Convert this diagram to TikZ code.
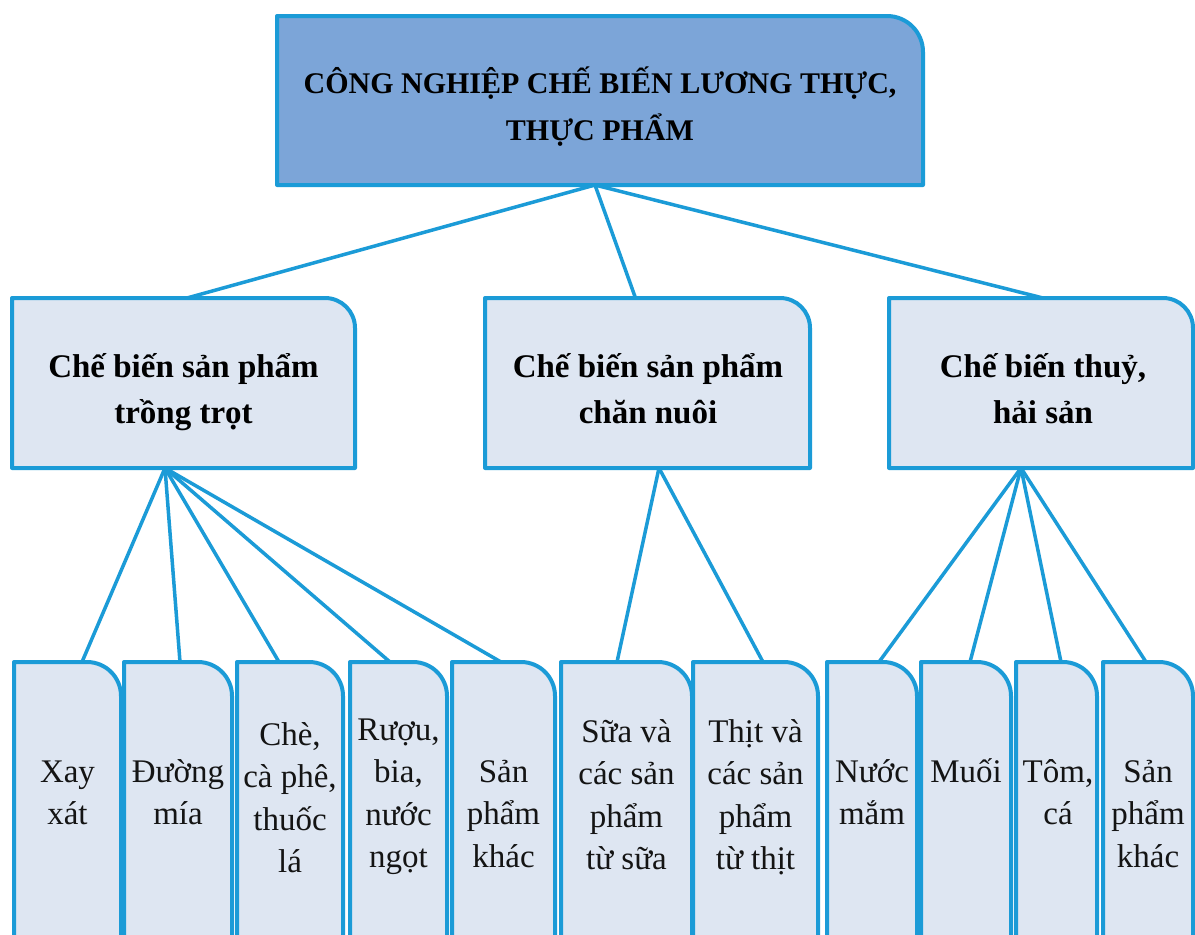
\documentclass[tikz,border=0pt]{standalone}
\usepackage{fontspec}
\setmainfont{Liberation Serif}
\definecolor{cline}{RGB}{27,155,215}
\definecolor{topfill}{RGB}{124,165,216}
\definecolor{boxfill}{RGB}{222,230,242}
\definecolor{txtgray}{RGB}{20,20,20}
\newcommand\tl[1]{\begin{tabular}[t]{@{}c@{}}#1\end{tabular}}
\newcommand\tabshape[3]{%
  \path[outline, fill=#3] (#1.south west) -- (#1.north west) -- ([xshift=-#2pt]#1.north east)
    arc[start angle=90, end angle=0, radius=#2pt] -- (#1.south east) -- cycle;}
\begin{document}
\begin{tikzpicture}[x=1pt,y=-1pt,
  shapebox/.style={draw=none, fill=none, inner sep=0pt, outer sep=0pt},
  outline/.style={draw=cline, line width=4pt, line join=round},
  conn/.style={draw=cline, line width=3.5pt, line cap=round},
  toptext/.style={anchor=base, inner sep=0pt, font=\fontsize{30}{47}\selectfont\bfseries, text=black},
  midtext/.style={anchor=base, inner sep=0pt, font=\fontsize{33}{46}\selectfont\bfseries, text=black},
  leaftext/.style={anchor=base, inner sep=0pt, font=\fontsize{33}{42.5}\selectfont, text=txtgray}]
\useasboundingbox (0,0) rectangle (1195,935);
\clip (0,0) rectangle (1195,935);
\fill[white] (0,0) rectangle (1195,935);
% boxes (geometry)
\node[shapebox, minimum width=646pt, minimum height=169pt] (top) at (600,100.5) {};
\node[shapebox, minimum width=343pt, minimum height=170pt] (m1) at (183.5,383) {};
\node[shapebox, minimum width=325pt, minimum height=170pt] (m2) at (647.5,383) {};
\node[shapebox, minimum width=304pt, minimum height=170pt] (m3) at (1041,383) {};
\begin{scope}[every node/.style={shapebox, minimum height=288pt}]
\node[minimum width=107pt] (l1) at (67.5,806) {};
\node[minimum width=108pt] (l2) at (178,806) {};
\node[minimum width=106pt] (l3) at (290,806) {};
\node[minimum width=97pt] (l4) at (398.5,806) {};
\node[minimum width=103pt] (l5) at (503.5,806) {};
\node[minimum width=131pt] (l6) at (626.5,806) {};
\node[minimum width=125pt] (l7) at (755.5,806) {};
\node[minimum width=90pt] (l8) at (872,806) {};
\node[minimum width=90pt] (l9) at (966,806) {};
\node[minimum width=81pt] (l10) at (1056.5,806) {};
\node[minimum width=90pt] (l11) at (1148,806) {};
\end{scope}
% connectors
\draw[conn] ([xshift=-5pt]top.south) -- ([xshift=3.5pt]m1.north);
\draw[conn] ([xshift=-5pt]top.south) -- ([xshift=-12pt]m2.north);
\draw[conn] ([xshift=-5pt]top.south) -- ([xshift=2pt]m3.north);
\draw[conn] ([xshift=-18.5pt]m1.south) -- ([xshift=14.5pt]l1.north);
\draw[conn] ([xshift=-18.5pt]m1.south) -- ([xshift=2pt]l2.north);
\draw[conn] ([xshift=-18.5pt]m1.south) -- ([xshift=-11pt]l3.north);
\draw[conn] ([xshift=-18.5pt]m1.south) -- ([xshift=-8.5pt]l4.north);
\draw[conn] ([xshift=-18.5pt]m1.south) -- ([xshift=-2.5pt]l5.north);
\draw[conn] ([xshift=11.5pt]m2.south) -- ([xshift=-9.5pt]l6.north);
\draw[conn] ([xshift=11.5pt]m2.south) -- ([xshift=7.5pt]l7.north);
\draw[conn] ([xshift=-20pt]m3.south) -- ([xshift=7pt]l8.north);
\draw[conn] ([xshift=-20pt]m3.south) -- ([xshift=4pt]l9.north);
\draw[conn] ([xshift=-20pt]m3.south) -- ([xshift=4.5pt]l10.north);
\draw[conn] ([xshift=-20pt]m3.south) -- ([xshift=-2pt]l11.north);
% outlines
\tabshape{top}{36}{topfill}
\tabshape{m1}{30}{boxfill}
\tabshape{m2}{30}{boxfill}
\tabshape{m3}{30}{boxfill}
\foreach \n in {l1,l2,l3,l4,l5,l6,l7,l8,l9,l10,l11}{\tabshape{\n}{34}{boxfill}}
% texts
\node[toptext] (ttop) at (600,93) {\tl{CÔNG NGHIỆP CHẾ BIẾN LƯƠNG THỰC,\\THỰC PHẨM}};
\node[midtext] (tm1) at (183.5,377) {\tl{Chế biến sản phẩm\\trồng trọt}};
\node[midtext] (tm2) at (648,377) {\tl{Chế biến sản phẩm\\chăn nuôi}};
\node[midtext] (tm3) at (1043,377) {\tl{Chế biến thuỷ,\\hải sản}};
\node[leaftext] (t1) at (67.5,782) {\tl{Xay\\xát}};
\node[leaftext] (t2) at (178,782) {\tl{Đường\\mía}};
\node[leaftext] (t3) at (290,745) {\tl{Chè,\\cà phê,\\thuốc\\lá}};
\node[leaftext] (t4) at (398.5,740) {\tl{Rượu,\\bia,\\nước\\ngọt}};
\node[leaftext] (t5) at (503.5,782) {\tl{Sản\\phẩm\\khác}};
\node[leaftext] (t6) at (626.5,742) {\tl{Sữa và\\các sản\\phẩm\\từ sữa}};
\node[leaftext] (t7) at (755.5,742) {\tl{Thịt và\\các sản\\phẩm\\từ thịt}};
\node[leaftext] (t8) at (872,782) {\tl{Nước\\mắm}};
\node[leaftext] (t9) at (966,782) {\tl{Muối}};
\node[leaftext] (t10) at (1058,782) {\tl{Tôm,\\cá}};
\node[leaftext] (t11) at (1148,782) {\tl{Sản\\phẩm\\khác}};
\end{tikzpicture}
\end{document}
